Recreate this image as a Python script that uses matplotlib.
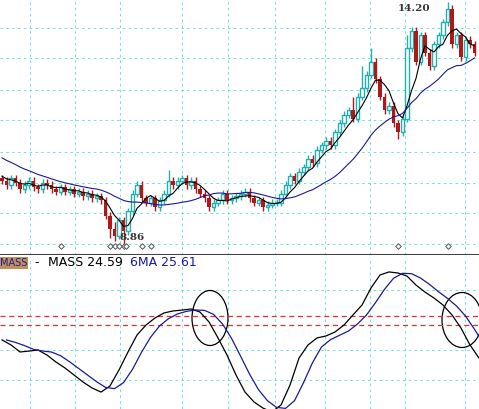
import numpy as np
import pandas as pd
import matplotlib
matplotlib.use('Agg')
import matplotlib.pyplot as plt
from matplotlib.patches import Ellipse

# closes before the visible window (only feed the moving averages)
pre_close = [11.3,11.25,11.2,11.1,11.15,11.0,10.95,10.9,10.85,10.8,
             10.75,10.7,10.6,10.65,10.5,10.45,10.4,10.35,10.3,10.25]
close = [10.2,10.1,10.25,10.15,10.0,10.1,10.2,10.05,10.0,10.15,10.1,10.0,9.95,10.05,
         9.95,10.0,9.9,9.95,9.85,9.9,9.8,9.85,9.75,
         9.4,9.1,8.95,9.3,9.05,
         9.5,9.9,10.1,9.8,
         9.7,9.8,9.6,9.75,9.9,10.2,10.1,
         10.2,10.25,10.1,10.2,10.0,9.9,
         9.8,9.6,9.7,9.75,9.9,9.75,
         9.8,9.85,9.9,9.95,9.8,9.7,9.75,9.6,9.65,9.7,9.7,
         9.9,10.1,10.3,10.2,10.4,
         10.5,10.7,10.6,10.9,11.0,11.1,11.0,11.3,11.5,
         11.7,11.8,11.6,12.1,12.3,12.6,12.9,
         12.5,12.1,11.8,11.9,
         11.5,11.3,11.6,
         13.2,13.6,12.9,13.5,13.1,12.8,
         13.3,13.5,13.8,14.1,
         13.3,13.5,13.0,13.4,13.3,13.1]
# extra wick length for notable candles, default 0.08
wick_hi = {25: 0.15, 37: 0.25, 80: 0.5, 82: 0.3, 90: 0.3, 99: 0.15, 78: 0.3}
wick_lo = {24: 0.2, 25: 0.12, 27: 0.3, 88: 0.15, 46: 0.1}
low_mark, high_mark = 8.86, 14.20
diamonds = [13, 24, 25, 26, 27, 27.5, 31, 33, 88, 99]

mass = [25.67,25.39,25.0,25.05,25.11,24.83,24.44,24.11,23.72,23.33,23.0,22.77,23.11,
        24.0,25.0,25.94,26.5,26.89,27.17,27.28,27.33,27.39,27.22,26.67,25.78,24.83,
        23.72,22.77,22.22,21.88,21.66,22.05,23.16,24.66,25.39,25.78,25.89,26.11,26.5,
        27.06,27.61,28.56,29.28,29.45,29.39,29.22,28.72,28.33,28.0,27.61,27.06,26.33,
        25.39,24.66]

allc = pd.Series(pre_close + close)
ma5 = allc.rolling(5).mean().values[len(pre_close):]
ma20 = allc.rolling(20, min_periods=1).mean().values[len(pre_close):]
opens = [pre_close[-1]] + close[:-1]
n = len(close)
idx = np.arange(n)

W, H = 479, 409
fig = plt.figure(figsize=(W/100, H/100), dpi=100)
ax1 = fig.add_axes([0, 1-255/H, 1, 255/H])
ax2 = fig.add_axes([0, 0, 1, 152/H])
px = lambda p: (p - 2) / 4.5
grid = dict(color='#55dddd', ls=(0, (3, 4)), lw=0.6, zorder=0)
for ax in (ax1, ax2):
    ax.set_xlim(px(0), px(W))
    ax.set_xticks([]); ax.set_yticks([])
    for s in ax.spines.values():
        s.set_visible(False)
    for v in [30, 75, 120, 182, 228, 275, 325, 370, 405, 465]:
        ax.axvline(px(v), **grid)

ax1.set_ylim(14.3 - 255*0.0227, 14.3)
for p in [28, 58, 90, 120, 152, 183, 213, 244]:
    ax1.axhline(14.3 - p*0.0227, **grid)

for i in idx:
    o, c = opens[i], close[i]
    hi = max(o, c) + wick_hi.get(i, 0.08)
    lo = min(o, c) - wick_lo.get(i, 0.08)
    if c >= o:
        col = '#20b0b0'
        ax1.vlines(i, lo, hi, color=col, lw=1)
        ax1.bar(i, max(c-o, 0.02), 0.7, o, facecolor='white', edgecolor=col, lw=1, zorder=3)
    else:
        col = '#b01818'
        ax1.vlines(i, lo, hi, color=col, lw=1)
        ax1.bar(i, o-c, 0.7, c, color=col, zorder=3)
ax1.plot(idx, ma5, color='black', lw=0.8, zorder=4)
ax1.plot(idx, ma20, color='#1a1a99', lw=0.8, zorder=4)
ax1.text(26, low_mark + 0.05, '%.2f' % low_mark, fontsize=7.5, family='DejaVu Serif',
         weight='bold', color='#333333', va='center')
ax1.text(88, high_mark - 0.1, '%.2f' % high_mark, fontsize=7.5, family='DejaVu Serif',
         weight='bold', color='#333333', va='center')
ax1.scatter(diamonds, [14.3 - 246*0.0227]*len(diamonds), marker='D', s=8,
            facecolor='white', edgecolor='#555555', lw=0.7, zorder=5)

# lower panel
ax1.axhline(14.3 - 255*0.0227, color='#444444', lw=1.5)
ax2.set_ylim(27 - (409-316)*0.0556, 27 + (316-257)*0.0556)
for p in [290, 350, 380]:
    ax2.axhline(27 - (p-316)*0.0556, **grid)
ax2.axhline(27, color='#dd3333', ls=(0, (4, 3)), lw=0.9)
ax2.axhline(26.5, color='#dd3333', ls=(0, (4, 3)), lw=0.9)
mx = np.arange(len(mass)) * 2
ma6 = pd.Series(mass).rolling(3, min_periods=1).mean().values
ax2.plot(mx, mass, color='black', lw=0.9)
ax2.plot(mx + 1, ma6, color='#1a1a99', lw=0.9)
ax2.add_patch(Ellipse((px(210), 27 - 2*0.0556), 36/4.5, 55*0.0556, fill=False, lw=0.9))
ax2.add_patch(Ellipse((px(462), 27 - 4*0.0556), 40/4.5, 55*0.0556, fill=False, lw=0.9))

fig.text(0, 1-263/H, 'MASS', fontsize=7, color='#202080', va='center',
         bbox=dict(facecolor='#c09060', edgecolor='none', pad=0.8))
fig.text(34/W, 1-263/H, '-', fontsize=9, va='center')
fig.text(48/W, 1-263/H, 'MASS %.2f' % 24.59, fontsize=9, va='center')
fig.text(130/W, 1-263/H, '6MA %.2f' % 25.61, fontsize=9, color='#1a1a99', va='center')

fig.savefig('out.png', dpi=100)
